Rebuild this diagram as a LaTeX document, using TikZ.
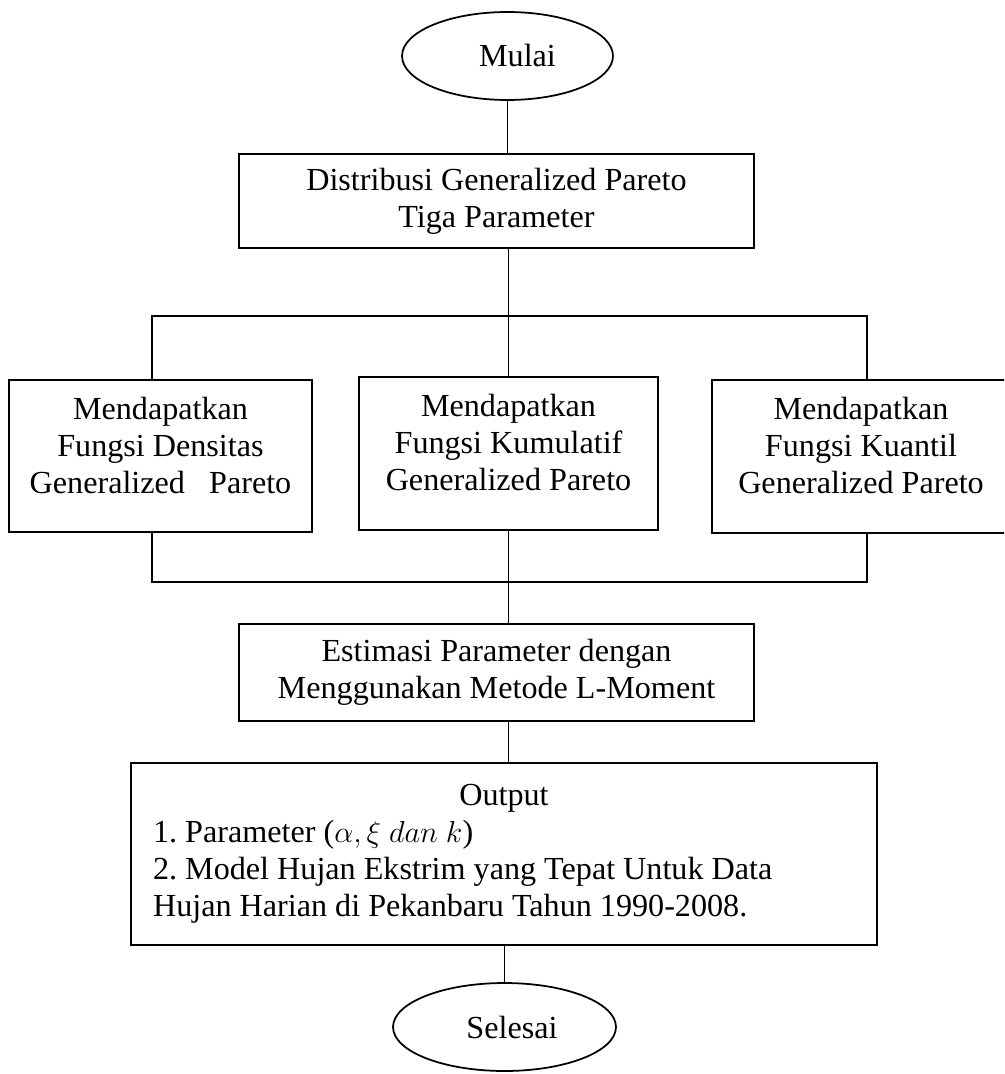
\documentclass[tikz,border=0pt]{standalone}
\usepackage{fontspec}
\setmainfont{Liberation Serif}
\usetikzlibrary{shapes.geometric}
\frenchspacing

\begin{document}
\begin{tikzpicture}[x=0.02cm,y=-0.02cm,font=\fontsize{18.3}{21}\selectfont,
  box/.style={draw,line width=1.1pt,rectangle,align=center,inner sep=0pt},
  term/.style={draw,line width=1pt,ellipse,inner sep=0pt},
  link/.style={line width=0.9pt}]
\clip (0,0) rectangle (1004,1074);
\fill[white] (0,0) rectangle (1004,1074);

\node[term,minimum width=4.22cm,minimum height=1.76cm] (mulai) at(507.5,56) {\hspace{0.4cm}Mulai};
\node[box,minimum width=10.3cm,minimum height=1.88cm] (dist) at(496.5,201) {Distribusi Generalized Pareto\\Tiga Parameter};

\node[box,minimum width=6.06cm,minimum height=3.04cm] (dens) at(160.5,456) {Mendapatkan\\Fungsi Densitas\\Generalized~~~Pareto\\[-0.3cm]};
\node[box,minimum width=5.98cm,minimum height=3.06cm] (kum) at(508.5,453.5) {Mendapatkan\\Fungsi Kumulatif\\Generalized Pareto\\[-0.3cm]};
\node[box,minimum width=5.96cm,minimum height=3.06cm] (kuan) at(861,456.5) {Mendapatkan\\Fungsi Kuantil\\Generalized Pareto\\[-0.3cm]};

\node[box,minimum width=10.3cm,minimum height=1.94cm] (est) at(496.5,672.5) {Estimasi Parameter dengan\\Menggunakan Metode L-Moment};
\node[box,align=flush left,text width=14.04cm,inner sep=0.44cm,minimum height=3.44cm] (out) at(504,854) {\makebox[14.04cm][c]{Output}\\1. Parameter ($\alpha, \xi\ dan\ k$)\\2. Model Hujan Ekstrim yang Tepat Untuk Data\\Hujan Harian di Pekanbaru Tahun 1990-2008.};
\node[term,minimum width=4.46cm,minimum height=1.76cm] (selesai) at(504.5,1027) {\hspace{0.3cm}Selesai};

\coordinate (tl) at(152,316);
\coordinate (tr) at(867,316);
\coordinate (bl) at(152,582);
\coordinate (br) at(867,582);

\draw[link] (mulai.south) -- (mulai.south |- dist.north);
\draw[link] (dist.south -| kum.north) -- (kum.north);
\draw[link] (dens.north -| tl) -- (tl) -- (tr) -- (kuan.north -| tr);
\draw[link] (dens.south -| bl) -- (bl) -- (br) -- (kuan.south -| br);
\draw[link] (kum.south) -- (kum.south |- est.north);
\draw[link] (est.south -| kum.south) -- (out.north -| kum.south);
\draw[link] (out.south -| selesai.north) -- (selesai.north);

\end{tikzpicture}
\end{document}
